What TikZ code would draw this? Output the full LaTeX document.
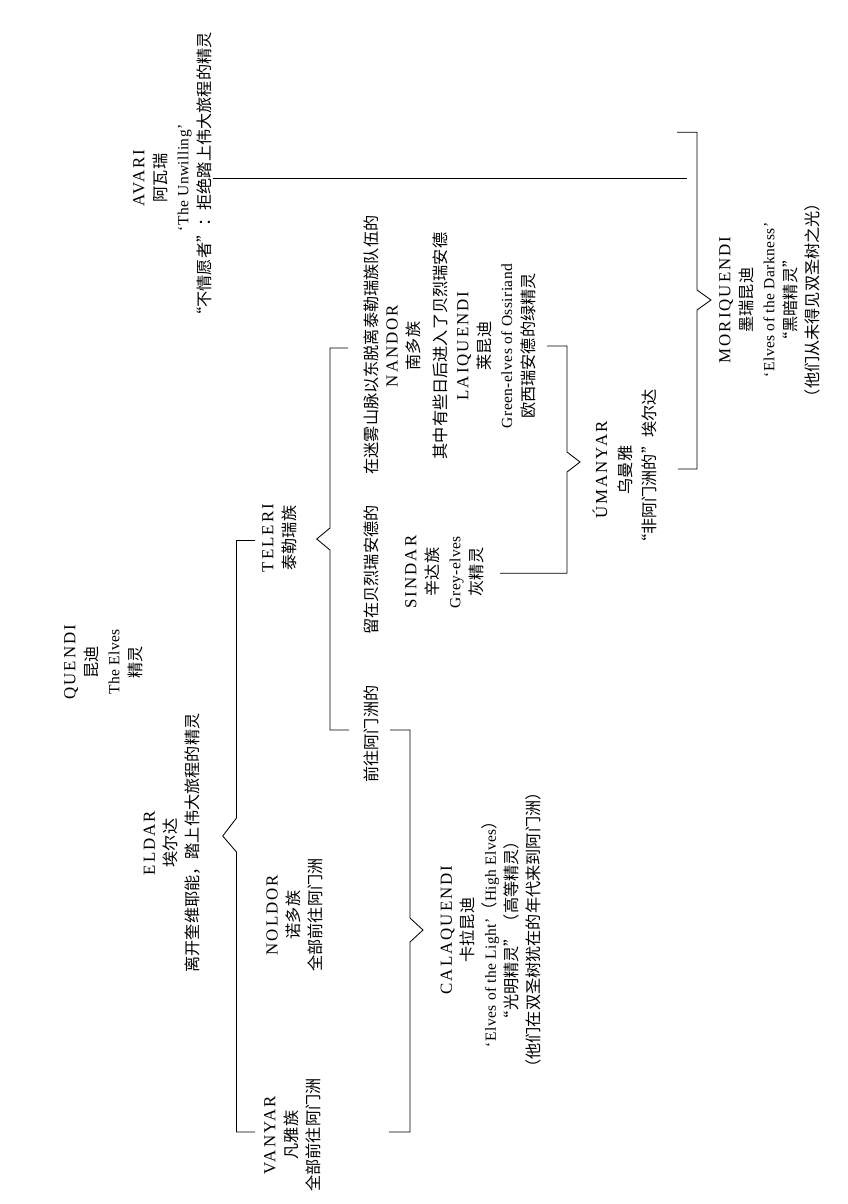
\documentclass[tikz,border=0pt]{standalone}
\usepackage{fontspec}
\setmainfont{Liberation Serif}
\newfontfamily\cjk{Noto Sans CJK SC}
\newfontfamily\capsfont[LetterSpace=12]{Liberation Serif}
\newfontfamily\glossfont[LetterSpace=3]{Liberation Serif}
\usetikzlibrary{calc}
\newcommand{\nm}[1]{{\capsfont\fontsize{12}{15.6}\selectfont #1}}
\newcommand{\zh}[1]{{\cjk\fontsize{11.5}{15.6}\selectfont #1}}
\newcommand{\gl}[1]{{\glossfont\fontsize{11}{15.6}\selectfont #1}}

\begin{document}
\begin{tikzpicture}[x=0.025cm, y=-0.025cm,
  bar/.style={line width=0.6pt},
  elf/.style={rotate=90, align=center, inner sep=1pt,
    font=\fontsize{11}{15.6}\selectfont}]
  \useasboundingbox (0,0) rectangle (848,1204);

  % Quendi
  \node[elf] (quendi) at (103.5,662)
    {\nm{QUENDI}\\\zh{昆迪}\\\gl{The Elves}\\\zh{精灵}};

  % Avari
  \node[elf] (avari) at (172.5,178)
    {\nm{AVARI}\\\zh{阿瓦瑞}\\\gl{‘The Unwilling’}\\\zh{“不情愿者”：拒绝踏上伟大旅程的精灵}};

  % Eldar and its three kindreds
  \node[elf] (eldar) at (172,843)
    {\nm{ELDAR}\\\zh{埃尔达}\\\zh{离开奎维耶能，踏上伟大旅程的精灵}};
  \node[elf] (teleri) at (279.5,538) {\nm{TELERI}\\\zh{泰勒瑞族}};
  \node[elf] (noldor) at (294.5,915)
    {\nm{NOLDOR}\\\zh{诺多族}\\\zh{全部前往阿门洲}};
  \node[elf] (vanyar) at (292.5,1135)
    {\nm{VANYAR}\\\zh{凡雅族}\\\zh{全部前往阿门洲}};

  % Teleri branches
  \node[elf] (mist) at (371,345) {\zh{在迷雾山脉以东脱离泰勒瑞族队伍的}};
  \node[elf] (stay) at (371,570) {\zh{留在贝烈瑞安德的}};
  \node[elf] (aman) at (371,734) {\zh{前往阿门洲的}};

  \node[elf] (nandor) at (461,346)
    {\nm{NANDOR}\\\zh{南多族}\\[0.12cm]\zh{其中有些日后进入了贝烈瑞安德}\\
     \nm{LAIQUENDI}\\\zh{莱昆迪}\\\gl{Green-elves of Ossiriand}\\\zh{欧西瑞安德的绿精灵}};
  \node[elf] (sindar) at (444.5,572)
    {\nm{SINDAR}\\\zh{辛达族}\\\gl{Grey-elves}\\\zh{灰精灵}};
  \node[elf] (calaquendi) at (491,930)
    {\nm{CALAQUENDI}\\\zh{卡拉昆迪}\\
     \gl{‘Elves of the Light’}\zh{（}\gl{High Elves}\zh{）}\\
     \zh{“光明精灵”（高等精灵）}\\\zh{（他们在双圣树犹在的年代来到阿门洲）}};

  % Umanyar and Moriquendi
  \node[elf] (umanyar) at (624.5,470)
    {\nm{ÚMANYAR}\\[0.05cm]\zh{乌曼雅}\\[0.05cm]\zh{“非阿门洲的”埃尔达}};
  \node[elf] (moriquendi) at (769.5,300)
    {\nm{MORIQUENDI}\\\zh{墨瑞昆迪}\\\gl{‘Elves of the Darkness’}\\
     \zh{“黑暗精灵”}\\\zh{（他们从未得见双圣树之光）}};

  % Eldar bracket
  \coordinate (eldar-top) at (255,540.5);
  \coordinate (eldar-tip) at (222.7,836);
  \coordinate (eldar-bot) at (255,1132);
  \draw[bar] (eldar-top) -| ($(eldar-tip)+(13.8,-18)$) -- (eldar-tip)
    -- ++(13.8,16) |- (eldar-bot);

  % Teleri bracket
  \coordinate (teleri-top) at (348,348);
  \coordinate (teleri-tip) at (316.7,539);
  \coordinate (teleri-bot) at (349,730);
  \draw[bar] (teleri-top) -| ($(teleri-tip)+(13.3,-11)$) -- (teleri-tip)
    -- ++(13.3,11) |- (teleri-bot);

  % Calaquendi bracket
  \coordinate (cala-top) at (390,730);
  \coordinate (cala-tip) at (423,930);
  \coordinate (cala-bot) at (389,1132);
  \draw[bar] (cala-top) -| ($(cala-tip)+(-13,-12)$) -- (cala-tip)
    -- ++(-13,12) |- (cala-bot);

  % Umanyar bracket
  \coordinate (uma-top) at (547,346);
  \coordinate (uma-tip) at (580,462);
  \coordinate (uma-bot) at (500,573.3);
  \draw[bar] (uma-top) -| ($(uma-tip)+(-13,-10)$) -- (uma-tip)
    -- ++(-13,10) |- (uma-bot);

  % Moriquendi bracket
  \coordinate (mori-top) at (677,132.3);
  \coordinate (mori-tip) at (711,300);
  \coordinate (mori-bot) at (678,469);
  \draw[bar] (mori-top) -| ($(mori-tip)+(-14,-10)$) -- (mori-tip)
    -- ++(-14,10) |- (mori-bot);

  % Avari line
  \coordinate (avari-end) at (686.7,178.3);
  \draw[bar] (avari.south |- avari-end) -- (avari-end);
\end{tikzpicture}
\end{document}
